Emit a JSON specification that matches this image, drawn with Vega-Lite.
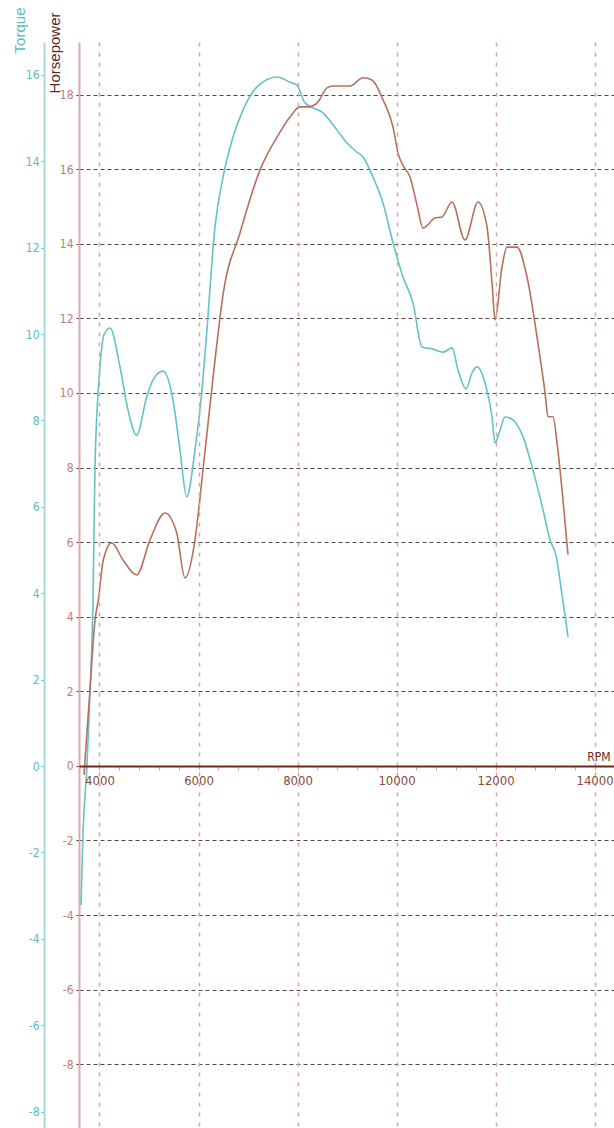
{
  "$schema": "https://vega.github.io/schema/vega-lite/v6.json",
  "width": 535,
  "height": 1086,
  "autosize": {"type": "none"},
  "padding": {"left": 79, "top": 42, "right": 0, "bottom": 0},
  "background": "white",
  "config": {"view": {"stroke": null}, "font": "DejaVu Sans Condensed, Liberation Sans Narrow, sans-serif", "axis": {"labelOverlap": false}},
  "datasets": {
    "torque": [
      {"rpm": 3626, "torque": -3.22}, {"rpm": 3667, "torque": -1.55}, {"rpm": 3747, "torque": 0.0},
      {"rpm": 3808, "torque": 1.71}, {"rpm": 3869, "torque": 3.84}, {"rpm": 3909, "torque": 6.92},
      {"rpm": 4010, "torque": 9.24}, {"rpm": 4091, "torque": 9.98}, {"rpm": 4212, "torque": 10.14},
      {"rpm": 4414, "torque": 9.24}, {"rpm": 4576, "torque": 8.24}, {"rpm": 4751, "torque": 7.66},
      {"rpm": 4953, "torque": 8.54}, {"rpm": 5081, "torque": 8.94}, {"rpm": 5283, "torque": 9.14},
      {"rpm": 5485, "torque": 8.47}, {"rpm": 5626, "torque": 7.31}, {"rpm": 5761, "torque": 6.23},
      {"rpm": 5929, "torque": 7.31}, {"rpm": 6064, "torque": 8.63}, {"rpm": 6165, "torque": 10.02},
      {"rpm": 6333, "torque": 12.48}, {"rpm": 6495, "torque": 13.63},
      {"rpm": 6697, "torque": 14.56}, {"rpm": 6899, "torque": 15.19}, {"rpm": 7182, "torque": 15.72},
      {"rpm": 7586, "torque": 15.95}, {"rpm": 7848, "torque": 15.83}, {"rpm": 7990, "torque": 15.76},
      {"rpm": 8151, "torque": 15.35}, {"rpm": 8515, "torque": 15.12}, {"rpm": 8798, "torque": 14.72},
      {"rpm": 9000, "torque": 14.42}, {"rpm": 9202, "torque": 14.21}, {"rpm": 9323, "torque": 14.1},
      {"rpm": 9525, "torque": 13.63}, {"rpm": 9727, "torque": 13.03}, {"rpm": 9929, "torque": 12.11},
      {"rpm": 10131, "torque": 11.32}, {"rpm": 10333, "torque": 10.72}, {"rpm": 10515, "torque": 9.7},
      {"rpm": 10737, "torque": 9.65}, {"rpm": 10939, "torque": 9.58}, {"rpm": 11121, "torque": 9.68},
      {"rpm": 11242, "torque": 9.17}, {"rpm": 11404, "torque": 8.73}, {"rpm": 11525, "torque": 9.1},
      {"rpm": 11626, "torque": 9.24}, {"rpm": 11788, "torque": 8.87}, {"rpm": 11929, "torque": 8.08},
      {"rpm": 11990, "torque": 7.48}, {"rpm": 12091, "torque": 7.78}, {"rpm": 12192, "torque": 8.08},
      {"rpm": 12353, "torque": 8.01}, {"rpm": 12555, "torque": 7.62}, {"rpm": 12757, "torque": 6.85},
      {"rpm": 12959, "torque": 5.93}, {"rpm": 13100, "torque": 5.23}, {"rpm": 13221, "torque": 4.88},
      {"rpm": 13343, "torque": 3.96}, {"rpm": 13464, "torque": 2.99}
    ],
    "hp": [
      {"rpm": 3687, "hp": -0.24}, {"rpm": 3808, "hp": 2.04}, {"rpm": 3909, "hp": 3.91},
      {"rpm": 3976, "hp": 4.45}, {"rpm": 4077, "hp": 5.52}, {"rpm": 4246, "hp": 5.98},
      {"rpm": 4475, "hp": 5.52}, {"rpm": 4751, "hp": 5.12}, {"rpm": 5020, "hp": 6.06},
      {"rpm": 5323, "hp": 6.78}, {"rpm": 5559, "hp": 6.25}, {"rpm": 5727, "hp": 5.04},
      {"rpm": 5929, "hp": 6.06}, {"rpm": 6091, "hp": 7.94}, {"rpm": 6333, "hp": 10.88},
      {"rpm": 6495, "hp": 12.63}, {"rpm": 6838, "hp": 14.29}, {"rpm": 7242, "hp": 15.98},
      {"rpm": 7586, "hp": 16.86}, {"rpm": 7848, "hp": 17.4}, {"rpm": 8050, "hp": 17.67},
      {"rpm": 8212, "hp": 17.67}, {"rpm": 8394, "hp": 17.77}, {"rpm": 8596, "hp": 18.18},
      {"rpm": 8717, "hp": 18.23}, {"rpm": 9060, "hp": 18.23}, {"rpm": 9323, "hp": 18.45},
      {"rpm": 9505, "hp": 18.39}, {"rpm": 9727, "hp": 17.86}, {"rpm": 9929, "hp": 17.13},
      {"rpm": 10030, "hp": 16.43}, {"rpm": 10131, "hp": 16.1}, {"rpm": 10272, "hp": 15.79},
      {"rpm": 10414, "hp": 15.04}, {"rpm": 10535, "hp": 14.42}, {"rpm": 10777, "hp": 14.69},
      {"rpm": 10919, "hp": 14.72}, {"rpm": 11121, "hp": 15.12}, {"rpm": 11383, "hp": 14.1},
      {"rpm": 11646, "hp": 15.12}, {"rpm": 11828, "hp": 14.45}, {"rpm": 11929, "hp": 12.95},
      {"rpm": 11990, "hp": 11.96}, {"rpm": 12131, "hp": 13.38}, {"rpm": 12232, "hp": 13.91},
      {"rpm": 12434, "hp": 13.91}, {"rpm": 12636, "hp": 13.11}, {"rpm": 12838, "hp": 11.5},
      {"rpm": 13000, "hp": 10.0}, {"rpm": 13060, "hp": 9.36}, {"rpm": 13161, "hp": 9.36},
      {"rpm": 13242, "hp": 8.66}, {"rpm": 13343, "hp": 7.4}, {"rpm": 13464, "hp": 5.66}
    ]
  },
  "encoding": {
    "x": {
      "field": "rpm", "type": "quantitative",
      "scale": {"domain": [3586, 14393], "nice": false, "zero": false},
      "axis": {
        "values": [4000, 4400, 4800, 5200, 5600, 6000, 6400, 6800, 7200, 7600, 8000, 8400, 8800, 9200, 9600, 10000, 10400, 10800, 11200, 11600, 12000, 12400, 12800, 13200, 13600, 14000],
        "offset": -362, "format": "d",
        "labelExpr": "datum.value % 2000 === 0 ? datum.label : ''",
        "grid": true,
        "gridOpacity": {"condition": {"test": "datum.value % 2000 === 0", "value": 1}, "value": 0},
        "gridColor": "#d6a4a4", "gridDash": [4, 6], "gridWidth": 1.5,
        "domainColor": "#6b2a1c", "domainWidth": 2,
        "tickColor": "#d6a0a0", "tickSize": 4,
        "labelColor": "#8b4a3a", "labelFontSize": 13, "labelPadding": 4,
        "labelOverlap": false, "labelFlush": false,
        "title": "RPM", "titleColor": "#6b2a1c", "titleFontSize": 12, "titleFontWeight": "normal",
        "titleX": 531, "titleY": -3, "titleAlign": "right", "titleBaseline": "bottom",
        "zindex": 1
      }
    }
  },
  "layer": [
    {
      "data": {"name": "torque"},
      "mark": {"type": "line", "color": "#63c3c6", "strokeWidth": 1.6, "interpolate": "monotone"},
      "encoding": {
        "y": {
          "field": "torque", "type": "quantitative",
          "scale": {"domain": [-8.38, 16.76], "nice": false, "zero": false},
          "axis": {
            "orient": "left", "offset": 35,
            "values": [-8, -6, -4, -2, 0, 2, 4, 6, 8, 10, 12, 14, 16],
            "grid": false,
            "domainColor": "#a6dcdc", "domainWidth": 2,
            "tickSize": 3, "tickColor": "#5bbcc0",
            "labelColor": "#5bbcc0", "labelFontSize": 12, "labelPadding": 2,
            "labelExpr": "replace(datum.label, '\u2212', '-')",
            "title": "Torque", "titleColor": "#5bbcc0", "titleFontSize": 15, "titleFontWeight": "normal",
            "titleFont": "Liberation Sans, Arial, sans-serif",
            "titleAngle": -90, "titleX": -25, "titleY": -35, "titleAlign": "right", "titleBaseline": "middle"
          }
        }
      }
    },
    {
      "data": {"name": "hp"},
      "mark": {"type": "line", "color": "#b8705e", "strokeWidth": 1.6, "interpolate": "monotone"},
      "encoding": {
        "y": {
          "field": "hp", "type": "quantitative",
          "scale": {"domain": [-9.71, 19.41], "nice": false, "zero": false},
          "axis": {
            "orient": "left",
            "values": [-8, -6, -4, -2, 0, 2, 4, 6, 8, 10, 12, 14, 16, 18],
            "grid": true, "gridColor": "#3c2620", "gridDash": [4, 3], "gridWidth": 1, "gridOpacity": 0.85,
            "domainColor": "#dcaaaa", "domainWidth": 2,
            "tickSize": 3, "tickColor": "#5a3028",
            "labelColor": "#c27c72", "labelFontSize": 12, "labelPadding": 3,
            "labelExpr": "replace(datum.label, '\u2212', '-')",
            "title": "Horsepower", "titleColor": "#5a2a1e", "titleFontSize": 15, "titleFontWeight": "normal",
            "titleFont": "Liberation Sans, Arial, sans-serif",
            "titleAngle": -90, "titleX": -25, "titleY": -30, "titleAlign": "right", "titleBaseline": "middle"
          }
        }
      }
    }
  ],
  "resolve": {"scale": {"y": "independent"}}
}
